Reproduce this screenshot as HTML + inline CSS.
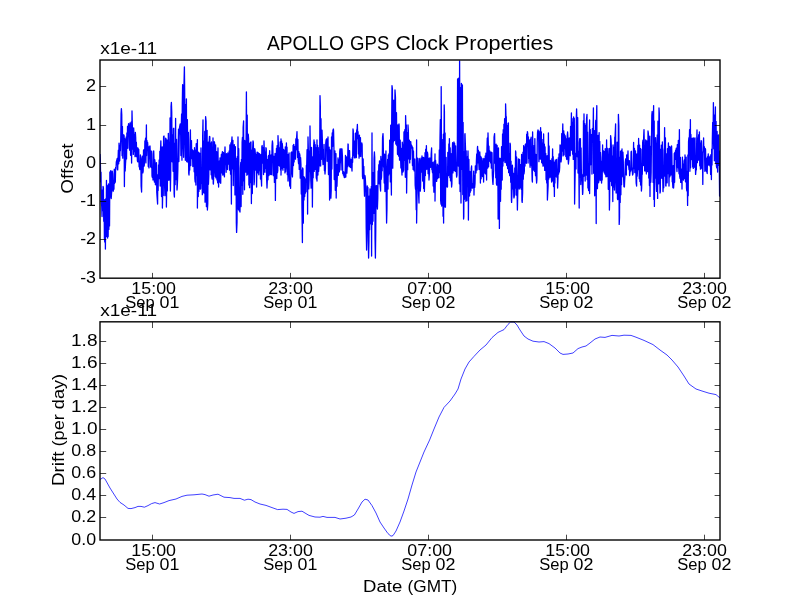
<!DOCTYPE html>
<html><head><meta charset="utf-8"><title>APOLLO GPS Clock Properties</title>
<style>
html,body{margin:0;padding:0;background:#fff;}
body{width:800px;height:600px;overflow:hidden;}
svg{display:block;will-change:transform;}
text{font-family:"Liberation Sans",sans-serif;fill:#000;}
</style></head><body>
<svg width="800" height="600" viewBox="0 0 800 600">
<rect width="800" height="600" fill="#fff"/>
<svg x="100.0" y="60.0" width="620.0" height="218.18" viewBox="100.0 60.0 620.0 218.18" overflow="hidden"><path d="M100.00 154.0L100.34 160.1L100.68 181.9L101.02 172.2L101.36 201.9L101.70 206.1L102.04 216.6L102.38 189.8L102.72 210.7L103.06 186.5L103.40 187.8L103.74 221.3L104.08 199.6L104.42 238.2L104.76 242.0L105.10 199.6L105.40 249.0L105.78 198.7L106.12 234.0L106.46 180.4L106.80 236.7L107.14 195.8L107.60 238.0L107.82 185.5L108.16 236.4L108.50 183.9L108.84 229.4L109.18 195.1L109.52 225.9L109.86 172.2L110.20 197.2L110.54 171.2L110.88 170.7L111.22 198.5L111.56 193.1L111.90 190.5L112.24 171.1L112.58 173.6L112.92 184.8L113.26 191.2L113.60 186.5L113.94 189.2L114.28 169.2L114.62 183.3L114.96 172.5L115.30 182.2L115.64 167.4L115.98 169.2L116.32 161.9L116.66 160.7L117.00 159.5L117.34 158.3L117.68 169.9L118.02 159.4L118.36 150.2L118.70 163.8L119.04 143.1L119.38 161.2L119.72 160.6L120.06 145.1L120.40 150.7L120.74 138.8L121.08 113.8L121.40 108.6L121.76 114.9L122.10 155.7L122.44 126.3L122.78 158.2L123.12 134.6L123.46 140.8L123.80 134.8L124.14 135.9L124.40 186.6L124.82 138.7L125.16 171.0L125.50 164.0L125.84 158.7L126.18 136.9L126.52 158.9L126.86 132.9L127.20 148.4L127.54 126.3L127.88 148.2L128.22 127.7L128.56 123.7L128.90 127.0L129.24 125.9L129.58 150.2L130.00 123.0L130.26 129.5L130.60 155.3L130.94 125.8L131.28 121.8L131.60 163.0L132.00 111.0L132.30 123.6L132.64 149.2L132.98 130.5L133.32 154.4L133.66 127.9L134.00 136.5L134.34 151.5L134.68 134.9L135.02 156.7L135.36 132.4L135.70 137.5L136.04 156.0L136.38 142.2L136.72 156.8L137.06 147.4L137.40 160.9L137.74 161.9L138.08 148.2L138.42 154.8L138.76 149.5L139.10 166.7L139.44 167.1L139.78 169.5L140.12 169.1L140.46 155.0L140.80 157.7L141.14 186.3L141.60 192.0L141.82 173.6L142.16 158.4L142.50 156.2L142.84 172.8L143.18 171.1L143.52 150.4L143.86 149.8L144.20 166.0L144.54 160.9L144.88 140.8L145.22 142.5L145.56 138.2L145.90 162.9L146.40 125.0L146.58 155.5L146.92 140.3L147.26 144.4L147.60 142.3L147.94 147.1L148.28 166.6L148.62 147.4L148.96 167.9L149.30 146.7L149.64 146.4L150.00 146.0L150.32 154.2L150.66 166.9L151.00 151.1L151.34 167.5L151.68 151.1L152.02 176.1L152.36 177.4L152.70 170.9L153.04 180.1L153.38 153.8L153.72 150.9L154.06 161.0L154.40 182.1L154.74 159.6L155.08 162.6L155.42 184.8L155.76 163.9L156.10 172.8L156.44 162.6L156.78 192.5L157.12 197.3L157.60 204.0L157.80 174.7L158.14 190.4L158.48 164.8L158.82 178.7L159.16 159.9L159.50 178.5L159.84 151.3L160.18 186.0L160.52 149.9L160.86 140.8L161.20 160.5L161.54 196.6L161.88 151.2L162.22 146.8L162.40 208.0L162.90 184.4L163.24 195.4L163.58 136.6L164.00 136.0L164.26 144.0L164.60 186.0L164.94 195.7L165.28 183.9L165.62 138.2L165.96 138.6L166.40 207.0L166.64 191.0L166.98 140.0L167.32 190.9L167.66 157.1L168.00 180.3L168.34 133.3L168.68 145.1L169.02 180.2L169.36 143.6L169.70 179.5L170.04 118.0L170.40 191.0L170.72 173.2L171.06 106.3L171.40 102.4L171.74 111.8L172.08 161.8L172.42 134.7L172.76 140.4L173.10 171.3L173.44 128.7L173.78 128.3L174.12 194.0L174.40 197.0L174.80 143.1L175.14 184.7L175.60 118.4L175.82 179.6L176.16 175.9L176.50 139.3L177.00 190.0L177.18 188.4L177.52 180.7L177.86 169.3L178.20 143.2L178.54 129.1L178.88 161.5L179.22 137.0L179.56 127.2L179.90 125.5L180.24 123.8L180.58 126.2L180.92 155.5L181.26 127.6L181.60 114.0L181.94 160.2L182.28 104.5L182.62 84.6L182.96 87.1L183.30 148.0L183.64 157.3L183.98 84.3L184.40 67.0L184.66 89.6L185.00 144.6L185.34 160.3L185.68 104.7L186.02 153.7L186.40 99.0L186.70 161.7L187.04 124.2L187.38 119.6L187.72 152.9L188.06 162.5L188.40 132.5L188.74 173.3L189.00 175.0L189.42 165.8L189.76 170.1L190.10 140.5L190.40 130.0L190.78 165.5L191.12 144.6L191.46 140.6L191.80 158.6L192.14 149.3L192.48 150.8L192.82 166.5L193.16 162.5L193.50 153.1L193.84 150.3L194.18 171.8L194.52 147.7L194.86 178.6L195.20 182.0L195.54 149.9L195.88 185.0L196.22 143.7L196.56 175.7L196.90 154.2L197.40 139.6L197.40 208.0L197.92 161.3L198.26 196.5L198.60 152.2L198.94 191.4L199.28 153.4L199.62 153.2L199.96 153.5L200.30 189.2L200.64 188.6L200.98 148.0L201.32 179.3L201.66 183.4L202.00 179.3L202.34 194.7L202.68 135.0L203.00 120.0L203.36 192.3L203.70 140.8L204.04 193.2L204.38 190.8L204.72 131.5L205.06 202.2L205.40 147.0L205.60 116.6L206.08 121.2L206.42 206.7L206.76 133.9L207.10 130.3L207.40 210.0L207.78 203.7L208.12 142.2L208.46 184.3L208.80 175.9L209.14 142.4L209.48 136.5L209.82 136.8L210.16 169.9L210.50 144.5L210.84 143.1L211.18 174.8L211.52 142.0L211.86 177.6L212.20 179.0L212.54 173.7L213.00 138.0L213.22 183.3L213.40 184.0L213.90 170.5L214.24 141.7L214.58 142.7L214.92 167.4L215.26 176.5L215.60 144.8L215.94 177.9L216.28 157.5L216.62 151.6L216.96 179.9L217.30 174.4L217.64 182.8L217.98 148.0L218.32 178.5L218.60 187.0L219.00 162.1L219.34 160.8L219.68 182.0L220.02 157.9L220.36 160.9L220.70 183.3L221.04 160.1L221.38 154.3L221.72 172.9L222.06 154.9L222.40 151.6L222.74 175.1L223.08 173.6L223.42 152.5L223.76 156.8L224.10 174.6L224.44 176.8L224.78 153.3L225.00 147.0L225.46 164.2L225.80 158.3L226.14 172.3L226.48 153.7L226.82 167.5L227.16 154.7L227.50 169.5L227.84 152.8L228.18 164.3L228.52 160.1L228.86 159.0L229.20 150.9L229.54 170.2L229.88 144.8L230.22 146.0L230.56 174.2L230.90 142.8L231.40 204.0L231.58 142.6L232.00 137.0L232.26 154.1L232.60 168.8L232.94 140.3L233.28 185.5L233.62 154.9L233.96 154.5L234.30 144.6L234.64 151.8L234.98 194.9L235.32 146.6L235.66 188.6L236.00 158.1L236.34 223.5L236.60 232.4L237.02 222.2L237.36 156.5L237.70 188.2L238.00 137.0L238.38 209.3L238.72 148.7L239.06 210.4L239.40 211.0L239.74 197.1L240.00 212.0L240.42 168.0L240.76 162.5L241.10 206.5L241.44 159.5L241.78 185.1L242.12 142.3L242.46 137.4L242.80 194.3L243.14 127.6L243.60 121.0L243.82 180.8L244.16 140.1L244.50 189.8L244.84 140.7L245.18 149.0L245.52 164.4L245.86 172.1L246.20 122.3L246.40 92.0L246.88 175.3L247.22 115.2L247.56 174.3L247.90 145.0L248.24 134.2L248.58 138.6L248.92 185.0L249.26 143.7L249.60 187.7L249.94 143.1L250.28 182.6L250.62 142.4L250.96 142.0L251.40 203.6L251.64 155.5L251.98 150.1L252.32 193.6L252.66 148.4L253.00 141.0L253.34 142.5L253.68 159.3L254.02 184.8L254.36 181.8L254.70 148.7L255.04 150.0L255.38 154.5L255.72 170.2L256.06 154.5L256.40 173.4L256.60 187.0L257.08 152.1L257.42 152.3L257.76 172.8L258.10 157.9L258.44 153.0L258.78 174.8L259.12 162.3L259.46 153.6L259.80 170.7L260.14 155.8L260.48 179.0L260.82 154.3L261.16 177.5L261.60 186.0L261.84 146.6L262.18 145.5L262.52 163.0L262.86 147.4L263.20 149.9L263.54 174.5L264.00 141.0L264.22 147.7L264.56 154.2L264.90 172.3L265.24 151.9L265.58 168.3L265.92 147.7L266.26 148.8L266.60 178.0L267.00 188.0L267.28 181.5L267.62 159.5L267.96 179.8L268.30 156.3L268.64 155.4L268.98 175.6L269.32 157.6L269.66 150.7L270.00 167.4L270.34 174.5L270.68 155.4L271.02 174.0L271.36 154.6L271.70 174.7L272.04 146.0L272.40 141.0L272.72 143.2L273.06 157.7L273.40 175.7L273.74 156.4L274.08 158.9L274.42 182.4L274.76 158.5L275.10 153.4L275.40 200.4L275.78 155.4L276.12 172.3L276.46 148.3L276.80 178.5L277.14 145.6L277.48 172.6L277.82 170.1L278.00 135.6L278.50 148.2L278.84 165.3L279.18 165.6L279.52 147.6L279.86 166.3L280.20 141.9L280.54 169.9L281.00 139.0L281.00 175.0L281.56 141.0L281.90 168.7L282.24 143.3L282.58 146.8L282.92 170.2L283.26 152.8L283.60 149.3L283.94 167.4L284.28 166.5L284.62 150.3L284.96 172.9L285.30 146.9L285.64 171.7L285.98 167.6L286.40 143.0L286.66 152.7L287.00 147.1L287.34 174.7L287.68 154.3L288.02 181.1L288.36 156.9L288.70 157.7L289.04 153.0L289.38 176.7L289.72 186.0L290.06 179.1L290.40 183.7L290.60 188.4L291.08 152.7L291.42 173.7L291.76 151.8L292.10 174.0L292.44 176.9L292.78 164.1L293.12 145.3L293.46 165.6L293.80 144.3L294.14 161.9L294.48 146.3L294.82 155.1L295.16 147.4L295.50 159.2L295.84 139.0L296.18 149.8L296.52 139.0L297.00 131.6L297.20 140.9L297.54 157.4L297.88 139.4L298.22 159.6L298.56 163.7L298.90 151.7L299.24 169.4L299.58 153.7L299.92 155.4L300.26 178.2L300.60 157.6L300.94 164.1L301.28 194.0L301.62 170.0L301.96 208.3L302.40 242.6L302.64 167.9L302.98 168.9L303.32 223.2L303.66 176.3L304.00 200.0L304.34 177.3L304.68 196.6L305.02 186.9L305.36 193.2L305.70 178.7L306.04 191.8L306.38 165.5L306.72 164.8L307.06 149.7L307.40 165.4L307.60 214.0L308.00 137.0L308.42 152.8L308.76 188.9L309.10 180.3L309.44 151.0L309.78 171.7L310.00 126.0L310.46 162.3L310.80 180.8L311.14 188.1L311.48 147.4L311.82 180.0L312.16 162.1L312.40 207.0L312.84 156.6L313.18 177.8L313.52 148.2L314.00 140.0L314.20 171.4L314.54 142.0L314.88 169.5L315.22 144.6L315.56 168.4L315.90 147.6L316.24 177.6L316.58 179.1L317.00 140.0L317.00 181.0L317.60 145.2L317.94 175.0L318.28 147.6L318.62 171.4L318.96 166.4L319.30 166.0L319.64 161.9L320.00 95.6L320.32 105.5L320.66 166.0L321.00 118.6L321.34 159.4L321.68 132.4L322.02 130.2L322.36 139.9L322.70 159.1L323.04 164.6L323.38 149.4L323.72 159.7L324.06 144.5L324.40 170.6L324.74 169.8L325.00 174.0L325.42 168.6L325.76 143.1L326.10 139.8L326.44 139.3L326.78 138.8L327.12 161.3L327.46 148.6L327.80 159.1L328.00 137.0L328.48 174.5L328.82 149.6L329.16 147.1L329.60 200.0L329.84 150.0L330.18 178.3L330.52 150.2L330.86 198.2L331.20 190.4L331.54 136.9L331.88 169.1L332.22 133.0L332.56 146.4L332.90 130.5L333.40 129.0L333.58 131.0L333.92 147.3L334.26 179.5L334.60 171.1L334.94 151.0L335.28 190.3L335.62 156.9L335.96 153.7L336.20 198.0L336.64 164.3L336.98 186.3L337.32 175.7L337.66 173.8L338.00 158.0L338.34 175.3L338.68 160.0L339.02 172.0L339.36 171.6L339.70 151.9L340.00 149.0L340.38 162.7L340.72 149.0L341.06 170.1L341.40 149.0L341.74 149.0L342.00 149.0L342.42 156.2L342.76 173.5L343.10 171.4L343.44 175.1L343.78 172.0L344.12 176.9L344.40 177.6L344.80 177.4L345.14 172.8L345.48 155.5L345.82 177.1L346.16 158.9L346.50 157.0L346.84 173.2L347.18 166.8L347.52 166.6L348.00 144.0L348.20 144.4L348.54 165.2L348.88 150.3L349.22 166.8L349.56 150.6L349.90 163.0L350.24 161.4L350.58 167.5L350.92 159.1L351.26 162.2L351.60 165.7L352.00 171.0L352.28 157.3L352.62 162.4L353.00 129.0L353.30 130.9L353.64 155.5L353.98 143.7L354.32 157.7L354.66 141.0L355.00 158.0L355.34 133.3L355.68 156.8L356.02 133.0L356.36 157.6L356.70 129.8L357.04 130.4L357.40 124.4L357.72 138.6L358.06 131.6L358.40 153.9L358.74 142.2L359.08 158.2L359.42 135.1L359.76 156.0L360.10 156.0L360.44 137.6L360.78 156.5L361.12 144.4L361.46 146.0L361.80 143.0L362.14 144.7L362.48 176.3L362.82 178.7L363.16 158.9L363.50 177.8L363.84 166.4L364.18 185.8L364.52 196.2L364.86 175.4L365.20 176.8L365.54 182.6L365.88 187.9L366.22 228.5L366.60 250.0L366.90 233.6L367.24 185.9L367.58 192.6L367.92 187.5L368.26 240.6L368.60 258.0L368.94 241.5L369.28 196.0L369.62 229.7L369.96 188.8L370.30 214.5L370.64 193.5L370.98 223.9L371.32 186.5L371.60 256.0L372.00 133.0L372.34 224.5L372.68 172.3L373.02 221.2L373.36 178.1L373.70 213.4L374.04 158.8L374.40 152.0L374.72 157.3L375.06 238.9L375.40 258.0L375.74 232.0L376.08 185.7L376.42 204.7L376.76 185.7L377.10 204.8L377.40 209.0L377.78 198.5L378.12 171.0L378.46 182.0L378.80 164.6L379.14 183.8L379.48 161.0L379.82 177.3L380.16 186.2L380.60 191.0L380.84 156.5L381.18 179.5L381.52 177.2L381.86 159.0L382.20 170.8L382.54 137.7L383.00 133.6L383.22 139.1L383.56 166.5L383.90 167.7L384.24 183.0L384.58 154.2L384.92 191.5L385.26 185.2L385.60 164.7L385.94 150.9L386.28 201.5L386.60 223.0L386.96 209.0L387.30 167.4L387.64 159.4L387.98 189.1L388.32 155.2L388.66 175.0L389.00 153.6L389.34 173.5L389.68 140.1L390.02 150.4L390.36 181.9L390.70 125.2L391.04 174.5L391.40 195.0L391.72 116.7L392.00 85.6L392.40 89.0L392.74 168.2L393.08 142.0L393.42 142.1L393.76 100.2L394.10 100.6L394.44 140.5L394.78 108.1L395.00 90.0L395.46 97.4L395.80 144.1L396.14 142.4L396.48 112.7L396.82 145.5L397.16 125.7L397.50 154.3L397.84 125.0L398.18 132.3L398.52 156.1L399.00 124.0L399.20 126.4L399.54 160.2L399.88 154.9L400.22 140.2L400.56 157.3L400.90 167.9L401.24 148.3L401.58 168.5L402.00 175.0L402.26 142.1L402.60 145.1L402.94 172.1L403.28 171.0L403.62 170.1L403.96 131.8L404.30 160.4L404.64 131.8L404.98 129.3L405.32 177.3L405.60 115.6L406.00 129.6L406.34 124.8L406.60 193.0L407.02 164.2L407.36 132.4L407.70 169.7L408.00 125.0L408.38 131.3L408.72 158.8L409.06 157.9L409.40 140.2L409.74 162.9L410.08 141.7L410.42 159.3L410.76 141.6L411.10 148.2L411.44 144.9L411.78 148.3L412.12 146.2L412.46 165.6L412.80 147.6L413.14 169.4L413.48 150.9L413.82 169.3L414.16 170.9L414.50 159.2L414.84 159.0L415.18 185.3L415.52 189.1L415.86 189.1L416.20 209.8L416.60 140.0L416.60 223.0L417.22 185.2L417.56 158.1L417.90 162.9L418.24 174.7L418.58 193.9L419.00 203.0L419.26 158.5L419.60 163.4L419.94 159.9L420.28 191.1L420.62 186.2L420.96 158.1L421.30 162.6L421.64 172.1L422.00 156.0L422.32 160.0L422.66 181.1L423.00 162.2L423.34 157.3L423.68 188.6L424.02 157.9L424.40 191.4L424.70 178.2L425.04 152.6L425.38 175.6L425.72 149.1L426.06 169.5L426.40 145.6L426.74 165.9L427.08 169.0L427.42 152.2L427.76 154.4L428.10 173.7L428.44 158.1L428.78 170.9L429.00 180.0L429.46 173.2L429.80 157.8L430.14 166.0L430.48 167.3L430.82 167.2L431.16 154.4L431.60 148.0L431.84 169.6L432.18 169.6L432.52 172.6L432.86 162.5L433.20 186.0L433.54 167.2L433.88 192.2L434.22 161.4L434.56 183.7L435.00 154.0L435.00 201.0L435.58 160.2L435.92 167.1L436.26 168.6L436.60 181.4L436.94 177.2L437.28 164.1L437.62 178.6L437.96 176.2L438.30 165.3L438.64 166.2L438.98 177.7L439.32 149.9L439.66 172.7L440.00 138.8L440.34 119.6L440.68 200.8L441.02 204.1L441.20 86.6L441.70 206.0L442.04 139.5L442.38 196.1L442.72 160.8L443.06 216.3L443.40 134.2L443.60 223.0L444.20 105.0L444.42 111.8L444.76 206.8L445.10 132.9L445.44 207.2L445.78 165.9L446.12 157.4L446.46 186.4L446.80 184.1L447.14 187.2L447.48 187.0L447.82 152.3L448.16 158.2L448.50 175.7L448.84 144.0L449.18 171.4L449.40 138.6L449.86 177.7L450.20 147.8L450.54 180.8L450.88 153.3L451.22 178.3L451.60 187.0L451.90 183.8L452.24 150.9L452.58 142.7L452.92 172.9L453.26 166.1L453.60 149.1L453.94 142.0L454.28 170.7L454.62 143.4L454.96 165.3L455.30 171.3L455.64 145.8L455.98 170.1L456.32 171.1L456.60 177.0L457.00 175.0L457.34 150.8L457.60 79.0L458.02 157.2L458.36 166.0L458.70 78.1L459.04 156.1L459.38 183.8L459.60 61.0L460.06 191.6L460.40 87.7L460.74 171.6L461.00 203.0L461.42 83.5L461.76 169.4L462.10 85.4L462.40 85.0L462.78 194.6L463.12 122.4L463.60 219.0L463.80 216.8L464.14 151.6L464.48 199.3L464.82 134.8L465.00 133.6L465.50 148.4L465.84 201.3L466.18 150.8L466.52 190.8L466.86 200.7L467.20 156.9L467.54 172.0L468.00 151.0L468.22 163.8L468.40 220.0L468.90 159.4L469.24 196.2L469.58 195.8L469.92 171.3L470.26 192.3L470.60 175.3L470.94 190.7L471.28 168.3L471.60 166.0L471.96 185.4L472.30 188.1L472.64 183.7L472.98 187.5L473.32 186.2L473.66 171.2L474.00 195.0L474.34 175.4L474.68 187.4L475.02 183.5L475.36 165.8L475.70 166.0L476.04 172.9L476.38 161.2L476.72 153.9L477.06 170.1L477.40 148.1L477.60 146.4L478.08 162.9L478.42 150.4L478.76 162.4L479.10 169.5L479.44 168.8L479.78 151.9L480.12 159.9L480.40 183.0L480.80 156.4L481.14 178.8L481.48 158.0L481.82 169.8L482.16 160.8L482.50 176.5L482.84 161.5L483.18 158.4L483.60 182.0L483.86 161.8L484.20 169.0L484.54 158.7L484.88 173.0L485.22 156.0L485.56 173.9L485.90 153.2L486.24 160.1L486.60 180.0L486.92 150.0L487.26 138.1L487.60 168.2L488.00 133.0L488.28 143.0L488.62 166.8L488.96 146.2L489.30 160.1L489.64 150.7L489.98 161.3L490.32 153.2L490.66 162.9L491.00 152.0L491.34 168.2L491.68 155.5L492.02 152.7L492.36 175.2L492.70 181.7L493.00 184.4L493.38 175.2L493.72 170.4L494.06 137.1L494.40 134.9L494.60 133.6L495.08 163.3L495.42 144.9L495.76 177.8L496.10 144.1L496.44 183.8L496.78 185.2L497.12 145.4L497.46 168.6L497.80 163.2L498.14 219.0L498.48 147.9L498.82 203.3L499.16 160.5L499.40 228.4L499.84 158.2L500.18 158.5L500.52 201.3L500.86 164.6L501.20 189.2L501.54 146.7L501.88 155.1L502.22 180.1L502.56 133.9L502.90 166.1L503.24 129.6L503.58 161.1L503.92 124.2L504.26 147.0L504.60 118.7L504.94 162.4L505.28 162.6L505.60 104.0L505.96 116.1L506.30 116.7L506.64 165.3L506.98 125.3L507.32 162.9L507.66 168.6L508.00 123.4L508.40 123.0L508.68 172.7L509.02 167.5L509.36 153.3L509.70 175.7L510.04 143.2L510.38 144.9L510.72 182.3L511.06 161.2L511.40 199.7L511.60 202.4L512.08 189.9L512.42 165.2L512.76 172.1L513.10 188.9L513.44 173.3L513.78 196.7L514.00 198.0L514.46 195.4L514.80 167.8L515.14 188.1L515.60 151.0L515.82 152.4L516.16 195.1L516.50 156.8L516.84 159.0L517.18 197.3L517.40 210.0L517.86 188.5L518.20 180.8L518.60 159.0L518.88 166.1L519.22 189.0L519.56 159.5L519.90 188.1L520.24 166.1L520.58 164.7L520.92 170.6L521.26 189.3L521.60 154.3L521.94 201.0L522.20 202.4L522.62 193.0L522.96 152.1L523.30 179.2L523.64 145.6L523.98 173.9L524.32 171.3L524.66 146.8L525.00 166.0L525.34 144.3L525.68 154.6L526.02 143.6L526.36 163.3L526.70 134.1L527.04 142.6L527.40 131.6L527.72 133.3L528.06 163.1L528.40 136.9L528.74 158.4L529.08 139.9L529.42 145.5L529.76 161.4L530.10 167.3L530.44 139.1L530.78 159.4L531.12 137.2L531.46 165.8L531.80 165.3L532.14 179.8L532.40 182.0L532.60 132.0L533.16 169.0L533.50 160.2L533.84 170.3L534.18 145.3L534.52 171.3L534.86 138.6L535.20 168.9L535.54 175.7L535.88 154.4L536.22 175.9L536.60 183.0L536.90 179.4L537.24 142.2L537.58 132.1L538.00 130.0L538.26 130.7L538.60 131.7L538.94 161.7L539.28 139.0L539.62 159.1L539.96 131.0L540.30 158.8L540.60 127.6L540.98 159.3L541.32 131.9L541.66 162.4L542.00 139.3L542.34 163.7L542.68 143.0L543.02 166.2L543.36 166.0L543.60 134.0L544.04 163.0L544.38 144.1L544.72 170.4L545.06 146.8L545.40 165.5L545.74 153.5L546.08 179.7L546.42 171.0L546.76 182.9L547.10 155.7L547.40 200.0L547.78 192.4L548.12 185.6L548.40 133.0L548.80 179.0L549.14 146.0L549.48 177.3L549.82 171.7L550.16 173.4L550.50 160.4L550.84 177.5L551.18 173.5L551.60 182.0L551.86 158.6L552.20 181.1L552.60 149.0L552.88 175.1L553.22 156.6L553.56 186.6L553.90 161.8L554.40 196.4L554.58 164.6L554.92 183.0L555.26 160.0L555.60 176.7L555.94 162.0L556.28 173.8L556.62 159.4L556.96 177.4L557.30 169.2L557.60 188.0L557.98 177.9L558.32 157.7L558.66 174.1L559.00 153.9L559.34 172.0L559.68 167.4L560.02 144.9L560.36 145.4L560.70 148.0L561.04 161.9L561.38 158.9L561.72 133.6L562.06 151.0L562.40 137.4L562.80 124.0L563.08 155.9L563.42 150.0L563.76 130.8L564.10 154.9L564.44 134.1L564.78 148.5L565.12 135.6L565.46 138.4L565.80 156.4L566.14 139.0L566.48 158.4L566.82 159.5L567.16 136.4L567.60 132.0L567.84 135.7L568.18 160.1L568.40 164.0L568.86 159.2L569.20 138.0L569.54 154.2L569.88 139.1L570.22 155.8L570.56 126.5L570.90 147.7L571.40 113.0L571.58 150.2L571.92 149.6L572.26 122.5L572.60 154.2L572.94 118.6L573.28 159.4L573.60 117.0L573.96 133.7L574.30 118.5L574.60 204.0L574.98 181.7L575.32 165.4L575.66 153.1L576.00 168.9L576.34 117.1L576.60 109.0L577.02 124.4L577.36 156.8L577.70 117.6L578.04 173.1L578.38 163.2L578.72 151.4L579.20 208.0L579.40 142.5L579.74 138.6L580.08 177.4L580.42 138.6L580.76 184.6L581.10 148.0L581.44 180.5L581.78 174.2L582.12 179.2L582.60 194.4L582.80 192.9L583.14 180.5L583.48 120.7L583.82 176.3L584.00 114.0L584.50 174.7L584.84 123.6L585.18 181.0L585.52 140.9L585.86 125.5L586.20 175.1L586.54 118.9L587.00 114.4L587.22 179.7L587.56 132.1L587.90 187.9L588.24 178.3L588.58 190.5L588.92 182.9L589.26 136.0L589.60 120.0L589.60 193.6L590.28 129.7L590.62 164.8L590.96 148.2L591.30 145.5L591.64 134.5L591.98 174.1L592.32 128.7L592.66 135.3L593.00 137.5L593.40 108.0L593.68 173.3L594.02 163.0L594.36 130.7L594.70 195.8L595.04 137.1L595.38 135.0L595.72 120.4L596.20 223.6L596.40 122.4L596.80 105.6L597.08 185.0L597.42 188.7L597.76 170.6L598.10 135.4L598.44 182.9L598.78 181.7L599.12 132.6L599.46 168.4L599.80 141.4L600.14 180.3L600.48 152.3L600.82 158.0L601.16 178.5L601.60 183.0L601.84 161.1L602.18 180.1L602.60 145.0L602.86 171.0L603.20 168.4L603.54 151.0L603.88 170.3L604.22 172.6L604.56 151.6L604.90 174.1L605.24 148.7L605.58 172.3L605.92 176.8L606.26 172.3L606.60 140.0L606.94 176.5L607.28 148.2L607.62 169.8L607.96 157.0L608.30 189.3L608.64 155.0L608.98 148.6L609.40 210.0L609.66 199.2L610.00 148.2L610.34 181.5L610.60 135.6L611.02 139.3L611.36 146.5L611.70 185.7L612.04 155.8L612.38 158.7L612.80 201.6L613.06 145.0L613.40 187.1L613.74 147.3L614.08 173.7L614.42 190.0L614.76 137.4L615.10 136.5L615.60 124.0L615.78 183.2L616.12 193.0L616.46 178.4L616.80 187.9L617.14 142.2L617.48 199.0L617.82 199.6L618.16 177.3L618.40 114.4L618.84 125.7L619.20 224.4L619.52 217.4L619.86 157.2L620.20 202.4L620.54 151.4L620.88 194.8L621.22 150.7L621.56 184.7L622.00 149.0L622.24 176.8L622.58 156.1L622.92 152.2L623.26 160.3L623.60 177.9L623.94 186.7L624.40 187.0L624.62 181.6L624.96 175.7L625.30 162.3L625.64 159.0L625.98 169.7L626.32 175.0L626.66 154.9L627.00 165.0L627.34 156.7L627.68 157.5L628.00 151.0L628.36 165.6L628.70 165.9L629.04 169.7L629.38 160.7L629.60 175.6L630.06 171.8L630.40 169.1L630.74 171.0L631.08 151.8L631.42 151.2L631.76 169.6L632.10 167.9L632.60 175.0L632.78 169.4L633.12 173.9L633.60 142.4L633.80 167.6L634.14 168.6L634.48 148.4L634.82 172.5L635.16 154.0L635.50 151.0L635.84 170.4L636.18 183.2L636.60 186.0L636.86 153.9L637.20 176.2L637.54 169.2L637.88 145.4L638.22 169.7L638.60 138.4L638.90 150.3L639.24 178.7L639.58 145.1L639.92 181.6L640.26 148.3L640.60 185.0L640.94 149.2L641.40 191.0L641.62 188.2L641.96 173.0L642.30 174.3L642.64 142.6L642.98 140.1L643.32 165.6L643.66 137.0L644.00 129.6L644.34 145.7L644.68 170.7L645.02 171.0L645.36 167.9L645.70 139.9L646.04 166.0L646.38 173.9L646.72 140.8L647.06 165.5L647.40 171.7L647.74 168.5L648.00 131.0L648.42 133.7L648.76 178.1L649.10 160.6L649.44 185.6L649.78 136.2L650.00 196.4L650.46 146.4L650.80 182.3L651.14 172.5L651.48 140.6L651.82 115.4L652.16 111.5L652.50 124.1L652.84 113.5L653.18 182.4L653.60 105.6L653.86 199.4L654.20 120.9L654.40 206.4L654.88 140.9L655.22 178.2L655.56 137.6L655.90 146.4L656.24 182.8L656.58 191.4L656.92 152.7L657.26 134.8L657.60 198.4L657.94 121.2L658.28 161.3L658.62 183.8L659.00 108.0L659.30 113.4L659.64 173.9L660.00 193.0L660.32 191.6L660.66 149.1L661.00 177.8L661.34 145.1L661.68 170.9L662.02 178.4L662.36 142.0L662.70 173.8L663.00 191.6L663.38 184.0L663.72 187.7L664.06 150.1L664.40 147.6L664.60 127.6L665.08 176.2L665.42 137.8L665.76 185.7L666.00 186.0L666.44 154.0L666.78 173.6L667.12 182.8L667.46 148.6L667.80 173.7L668.14 158.1L668.40 143.0L668.82 173.2L669.00 186.0L669.50 146.4L669.84 176.8L670.18 152.0L670.52 147.3L670.86 175.0L671.20 146.5L671.60 146.0L671.88 155.4L672.22 181.7L672.56 182.3L672.90 187.6L673.24 165.6L673.60 188.0L673.92 182.4L674.26 153.5L674.60 182.3L674.94 152.1L675.28 159.6L675.62 150.1L675.96 151.9L676.30 148.1L676.64 166.4L676.98 171.5L677.32 144.6L677.66 145.7L678.00 167.7L678.34 140.3L678.68 168.1L679.02 173.8L679.40 129.6L679.70 176.6L680.04 178.5L680.38 157.5L680.72 182.4L681.06 176.9L681.40 182.5L681.74 168.9L682.00 189.0L682.42 157.1L682.76 177.6L683.10 163.8L683.44 180.1L683.78 176.2L684.12 160.9L684.46 159.6L684.80 178.6L685.00 155.0L685.48 181.8L685.82 179.9L686.16 157.2L686.50 188.1L686.84 190.8L687.18 171.1L687.60 205.4L687.86 155.0L688.20 195.7L688.54 141.7L688.88 137.7L689.22 146.1L689.56 129.7L689.90 171.3L690.40 119.6L690.58 167.8L690.92 134.4L691.26 157.5L691.60 144.0L691.94 159.7L692.28 138.1L692.62 166.9L692.96 138.6L693.30 168.4L693.64 137.8L693.98 165.5L694.32 139.8L694.66 167.3L695.00 138.0L695.34 163.6L695.60 174.4L696.02 168.6L696.36 169.8L696.70 141.6L697.00 130.0L697.38 162.7L697.72 142.0L698.06 160.4L698.40 138.4L698.74 134.6L699.08 159.7L699.40 132.0L699.76 165.8L700.10 142.8L700.44 169.2L700.78 165.8L701.12 140.7L701.46 141.2L701.80 168.3L702.14 168.9L702.48 152.2L702.80 184.4L703.16 149.5L703.60 138.0L703.84 151.9L704.18 146.4L704.52 148.6L704.86 171.3L705.20 148.5L705.54 149.4L705.88 165.2L706.22 170.8L706.56 171.8L706.90 158.1L707.20 173.6L707.58 156.6L707.92 158.7L708.26 153.8L708.60 165.1L708.94 156.7L709.28 164.2L709.62 160.0L709.96 166.0L710.30 155.9L710.64 174.4L710.98 154.5L711.40 179.6L711.66 149.1L712.00 165.1L712.34 139.0L712.68 122.3L713.02 143.7L713.40 102.6L713.70 148.8L714.04 115.0L714.38 160.8L714.72 115.0L715.06 119.3L715.40 107.0L715.74 163.5L716.08 121.3L716.42 166.1L716.76 167.8L717.10 131.5L717.60 172.0L717.78 139.0L718.12 165.4L718.46 134.9L718.80 165.3L719.14 150.9L719.60 196.0L719.82 182.3" stroke="#00f" stroke-width="1.3" fill="none" stroke-linejoin="round"/></svg>
<rect x="100.0" y="60.0" width="620.0" height="218.18" fill="none" stroke="#000" stroke-width="1.39"/>
<path d="M152.5 278.18v-5.3M152.5 60.0v6.2M290.5 278.18v-5.3M290.5 60.0v6.2M428.5 278.18v-5.3M428.5 60.0v6.2M566.5 278.18v-5.3M566.5 60.0v6.2M704.5 278.18v-5.3M704.5 60.0v6.2M100.0 86.50h6.2M720.0 86.50h-5.4M100.0 125.50h6.2M720.0 125.50h-5.4M100.0 163.50h6.2M720.0 163.50h-5.4M100.0 201.50h6.2M720.0 201.50h-5.4M100.0 239.50h6.2M720.0 239.50h-5.4" stroke="#000" stroke-width="0.72" fill="none"/>
<text x="85.93" y="90.90" font-size="16.667" textLength="10.07" lengthAdjust="spacingAndGlyphs">2</text>
<text x="85.93" y="129.90" font-size="16.667" textLength="10.07" lengthAdjust="spacingAndGlyphs">1</text>
<text x="85.93" y="167.90" font-size="16.667" textLength="10.07" lengthAdjust="spacingAndGlyphs">0</text>
<text x="80.21" y="205.90" font-size="16.667" textLength="15.79" lengthAdjust="spacingAndGlyphs">-1</text>
<text x="80.21" y="243.90" font-size="16.667" textLength="15.79" lengthAdjust="spacingAndGlyphs">-2</text>
<text x="80.21" y="282.88" font-size="16.667" textLength="15.79" lengthAdjust="spacingAndGlyphs">-3</text>
<text x="131.36" y="293.68" font-size="16.667" textLength="44.67" lengthAdjust="spacingAndGlyphs">15:00</text>
<text x="125.16" y="307.68" font-size="16.667" textLength="29.43" lengthAdjust="spacingAndGlyphs">Sep</text>
<text x="159.56" y="307.68" font-size="16.667" textLength="19.87" lengthAdjust="spacingAndGlyphs">01</text>
<text x="268.16" y="293.68" font-size="16.667" textLength="44.67" lengthAdjust="spacingAndGlyphs">23:00</text>
<text x="263.16" y="307.68" font-size="16.667" textLength="29.43" lengthAdjust="spacingAndGlyphs">Sep</text>
<text x="297.56" y="307.68" font-size="16.667" textLength="19.87" lengthAdjust="spacingAndGlyphs">01</text>
<text x="407.36" y="293.68" font-size="16.667" textLength="44.67" lengthAdjust="spacingAndGlyphs">07:00</text>
<text x="401.16" y="307.68" font-size="16.667" textLength="29.43" lengthAdjust="spacingAndGlyphs">Sep</text>
<text x="435.56" y="307.68" font-size="16.667" textLength="19.87" lengthAdjust="spacingAndGlyphs">02</text>
<text x="545.36" y="293.68" font-size="16.667" textLength="44.67" lengthAdjust="spacingAndGlyphs">15:00</text>
<text x="539.16" y="307.68" font-size="16.667" textLength="29.43" lengthAdjust="spacingAndGlyphs">Sep</text>
<text x="573.56" y="307.68" font-size="16.667" textLength="19.87" lengthAdjust="spacingAndGlyphs">02</text>
<text x="682.16" y="293.68" font-size="16.667" textLength="44.67" lengthAdjust="spacingAndGlyphs">23:00</text>
<text x="677.16" y="307.68" font-size="16.667" textLength="29.43" lengthAdjust="spacingAndGlyphs">Sep</text>
<text x="711.56" y="307.68" font-size="16.667" textLength="19.87" lengthAdjust="spacingAndGlyphs">02</text>
<text x="100.20" y="53.80" font-size="16.667" textLength="56.79" lengthAdjust="spacingAndGlyphs">x1e-11</text>
<path d="M100 479.6L103 477.6L105 479L110 488L117 499L120 502.4L124 505L128 508.4L131 508.6L135 507.6L138 506.4L141 506.4L144.4 507.2L148 505.6L151.6 503.6L155 502.6L159.6 504L164 502.6L169 500.6L176 499L182 496.4L187 495.2L194 494.8L202 494L205 494.6L209 496.2L213 495L218 494.2L224 497.2L230 497.6L234 498.4L240 498.4L244.4 500.2L248 499.2L251 499.6L255 502L260 504L266 505.4L272 507.6L277.6 509.6L283 509.2L287 509.4L291 512L294 513.4L298 511.6L302 511.2L305 513L309 515.4L315 517L320 517.2L323 516.4L327 517.4L335 517.4L340 519L346 518.2L351 517L354.4 515L358 509L362 502L365 499.2L368 500L372 505.6L376 513L380 522L384 528L388 533.6L391 536.2L393 535.6L396 531L400 522L404 511L408 499L412 485L416 472L420 462L424 452L429.6 440L434 429L439 417L444 407.4L450 401L455 394L458 389L461 379L465 369L469 362L474 356.4L480 350L486 345L492 337.6L498 332.4L504 329.6L508 324.4L510.6 322L514 322L517 325L520 330L524 336L528 339L533 341.2L539 342L544 341.6L549 343.6L555 348L560 353L563 354.4L568 354L573 353L578 348.6L582 347L586 346L590 343L595 339L600 337L605 337.4L612 335.4L619 336L624 335.2L631 335.4L636 337.2L644 340.4L653 344.6L660 350L667 355L672 360L678 367L684 376L689 384L696 389L702 391L709 393.2L716 394.6L720 398" stroke="#00f" stroke-width="0.75" fill="none" stroke-linejoin="round"/>
<rect x="100.0" y="321.82" width="620.0" height="218.18" fill="none" stroke="#000" stroke-width="1.39"/>
<path d="M152.5 540.0v-5.3M152.5 321.82v6.2M290.5 540.0v-5.3M290.5 321.82v6.2M428.5 540.0v-5.3M428.5 321.82v6.2M566.5 540.0v-5.3M566.5 321.82v6.2M704.5 540.0v-5.3M704.5 321.82v6.2M100.0 341.50h6.2M720.0 341.50h-5.4M100.0 363.50h6.2M720.0 363.50h-5.4M100.0 385.50h6.2M720.0 385.50h-5.4M100.0 407.50h6.2M720.0 407.50h-5.4M100.0 429.50h6.2M720.0 429.50h-5.4M100.0 451.50h6.2M720.0 451.50h-5.4M100.0 473.50h6.2M720.0 473.50h-5.4M100.0 495.50h6.2M720.0 495.50h-5.4M100.0 517.50h6.2M720.0 517.50h-5.4" stroke="#000" stroke-width="0.72" fill="none"/>
<text x="70.99" y="345.90" font-size="16.667" textLength="26.51" lengthAdjust="spacingAndGlyphs">1.8</text>
<text x="70.99" y="367.90" font-size="16.667" textLength="26.51" lengthAdjust="spacingAndGlyphs">1.6</text>
<text x="70.99" y="389.90" font-size="16.667" textLength="26.51" lengthAdjust="spacingAndGlyphs">1.4</text>
<text x="70.99" y="411.90" font-size="16.667" textLength="26.51" lengthAdjust="spacingAndGlyphs">1.2</text>
<text x="70.99" y="433.90" font-size="16.667" textLength="26.51" lengthAdjust="spacingAndGlyphs">1.0</text>
<text x="71.32" y="455.90" font-size="16.667" textLength="24.78" lengthAdjust="spacingAndGlyphs">0.8</text>
<text x="71.32" y="477.90" font-size="16.667" textLength="24.78" lengthAdjust="spacingAndGlyphs">0.6</text>
<text x="71.32" y="499.90" font-size="16.667" textLength="24.78" lengthAdjust="spacingAndGlyphs">0.4</text>
<text x="71.32" y="521.90" font-size="16.667" textLength="24.78" lengthAdjust="spacingAndGlyphs">0.2</text>
<text x="71.32" y="544.70" font-size="16.667" textLength="24.78" lengthAdjust="spacingAndGlyphs">0.0</text>
<text x="131.36" y="555.50" font-size="16.667" textLength="44.67" lengthAdjust="spacingAndGlyphs">15:00</text>
<text x="125.16" y="569.50" font-size="16.667" textLength="29.43" lengthAdjust="spacingAndGlyphs">Sep</text>
<text x="159.56" y="569.50" font-size="16.667" textLength="19.87" lengthAdjust="spacingAndGlyphs">01</text>
<text x="268.16" y="555.50" font-size="16.667" textLength="44.67" lengthAdjust="spacingAndGlyphs">23:00</text>
<text x="263.16" y="569.50" font-size="16.667" textLength="29.43" lengthAdjust="spacingAndGlyphs">Sep</text>
<text x="297.56" y="569.50" font-size="16.667" textLength="19.87" lengthAdjust="spacingAndGlyphs">01</text>
<text x="407.36" y="555.50" font-size="16.667" textLength="44.67" lengthAdjust="spacingAndGlyphs">07:00</text>
<text x="401.16" y="569.50" font-size="16.667" textLength="29.43" lengthAdjust="spacingAndGlyphs">Sep</text>
<text x="435.56" y="569.50" font-size="16.667" textLength="19.87" lengthAdjust="spacingAndGlyphs">02</text>
<text x="545.36" y="555.50" font-size="16.667" textLength="44.67" lengthAdjust="spacingAndGlyphs">15:00</text>
<text x="539.16" y="569.50" font-size="16.667" textLength="29.43" lengthAdjust="spacingAndGlyphs">Sep</text>
<text x="573.56" y="569.50" font-size="16.667" textLength="19.87" lengthAdjust="spacingAndGlyphs">02</text>
<text x="682.16" y="555.50" font-size="16.667" textLength="44.67" lengthAdjust="spacingAndGlyphs">23:00</text>
<text x="677.16" y="569.50" font-size="16.667" textLength="29.43" lengthAdjust="spacingAndGlyphs">Sep</text>
<text x="711.56" y="569.50" font-size="16.667" textLength="19.87" lengthAdjust="spacingAndGlyphs">02</text>
<text x="100.20" y="315.62" font-size="16.667" textLength="56.79" lengthAdjust="spacingAndGlyphs">x1e-11</text>
<text x="266.95" y="50.00" font-size="20.000" textLength="76.91" lengthAdjust="spacingAndGlyphs">APOLLO</text>
<text x="350.06" y="50.00" font-size="20.000" textLength="39.29" lengthAdjust="spacingAndGlyphs">GPS</text>
<text x="395.56" y="50.00" font-size="20.000" textLength="53.03" lengthAdjust="spacingAndGlyphs">Clock</text>
<text x="454.80" y="50.00" font-size="20.000" textLength="98.65" lengthAdjust="spacingAndGlyphs">Properties</text>
<text x="363.11" y="591.70" font-size="16.667" textLength="39.24" lengthAdjust="spacingAndGlyphs">Date</text>
<text x="407.57" y="591.70" font-size="16.667" textLength="49.73" lengthAdjust="spacingAndGlyphs">(GMT)</text>
<text x="73.30" y="193.64" font-size="16.667" textLength="50.08" lengthAdjust="spacingAndGlyphs" transform="rotate(-90 73.30 193.64)">Offset</text>
<text x="64.00" y="485.99" font-size="16.667" textLength="34.46" lengthAdjust="spacingAndGlyphs" transform="rotate(-90 64.00 485.99)">Drift</text>
<text x="64.00" y="446.52" font-size="16.667" textLength="32.34" lengthAdjust="spacingAndGlyphs" transform="rotate(-90 64.00 446.52)">(per</text>
<text x="64.00" y="409.16" font-size="16.667" textLength="35.15" lengthAdjust="spacingAndGlyphs" transform="rotate(-90 64.00 409.16)">day)</text>
</svg>
</body></html>
